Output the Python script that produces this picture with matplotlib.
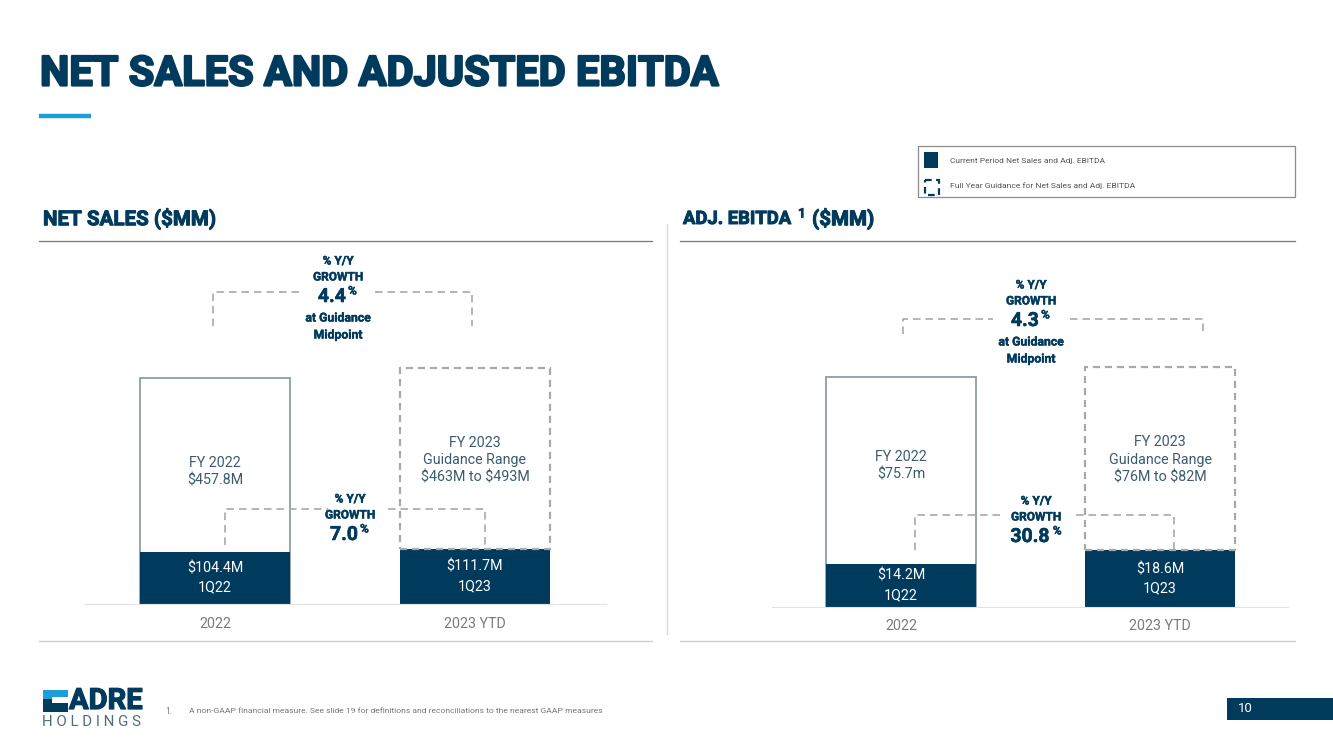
import matplotlib
matplotlib.use('Agg')
import matplotlib.pyplot as plt
import matplotlib.patheffects as pe
from matplotlib.patches import Rectangle

W, H = 1333, 749
NAVY = '#003a5d'
BLUE = '#1c9fd9'
GREY = '#a9a9a9'
TXT = '#3b5a70'

categories = ['2022', '2023 YTD']
sales_period = [104.4, 111.7]
sales_year = [457.8, 478.0]
ebitda_period = [14.2, 18.6]
ebitda_year = [75.7, 79.0]

sales_period_labels = ['\\$104.4M\n1Q22', '\\$111.7M\n1Q23']
sales_year_labels = ['FY 2022\n\\$457.8M', 'FY 2023\nGuidance Range\n\\$463M to \\$493M']
ebitda_period_labels = ['\\$14.2M\n1Q22', '\\$18.6M\n1Q23']
ebitda_year_labels = ['FY 2022\n\\$75.7m', 'FY 2023\nGuidance Range\n\\$76M to \\$82M']

plt.rcParams['font.family'] = ['Roboto', 'DejaVu Sans']

fig = plt.figure(figsize=(W / 100, H / 100), dpi=100)

# overlay in pixel coordinates for slide furniture, sits above the charts
bg = fig.add_axes([0, 0, 1, 1])
bg.set_xlim(0, W)
bg.set_ylim(H, 0)
bg.axis('off')
bg.set_zorder(5)


def heavy(x, y, s, size, w=0.6, **kw):
    t = bg.text(x, y, s, color=NAVY, fontsize=size, fontweight='bold', **kw)
    t.set_path_effects([pe.withStroke(linewidth=w, foreground=NAVY)])
    return t


def chart(left, right, base, top, period, year, period_labels, year_labels, ymax, lims, label_y):
    ax = fig.add_axes([left / W, 1 - base / H, (right - left) / W, (base - top) / H])
    # prior year is a solid outline, guidance year is dashed and starts on top of the 1Q bar
    ax.bar([0], [year[0]], width=0.58, color='white', edgecolor='#8d9ea3', linewidth=1.3, zorder=1)
    ax.bar([1], [year[1] - period[1]], bottom=[period[1]], width=0.58, color='none',
           edgecolor=GREY, linewidth=1.6, linestyle=(0, (3.2, 2.2)), zorder=3)
    ax.bar([0, 1], period, width=0.58, color=NAVY, zorder=2)
    ax.set_xlim(*lims)
    ax.set_ylim(0, ymax)
    ax.patch.set_alpha(0)
    for s in ['top', 'left', 'right']:
        ax.spines[s].set_visible(False)
    ax.spines['bottom'].set_color('#e3e3e3')
    ax.set_yticks([])
    ax.set_xticks([0, 1])
    ax.set_xticklabels(categories, fontsize=10.3, color='#7a7a7a')
    ax.tick_params(axis='x', length=0, pad=9)
    for i in [0, 1]:
        ax.text(i, period[i] / 2, period_labels[i], ha='center', va='center', color='white',
                fontsize=10.3, linespacing=1.45, zorder=5)
        ax.text(i, label_y[i], year_labels[i], ha='center', va='center', color=TXT,
                fontsize=10.3, linespacing=1.32, zorder=5)
    return ax


chart(85, 606, 604, 240, sales_period, sales_year, sales_period_labels, sales_year_labels,
      737.0, (-0.5, 1.504), [267, 291])
chart(772, 1288, 607, 240, ebitda_period, ebitda_year, ebitda_period_labels, ebitda_year_labels,
      120.7, (-0.498, 1.494), [46.3, 48.5])

# title
heavy(40, 74, 'NET SALES AND ADJUSTED EBITDA', 29.9, w=1.6, va='center', ha='left')
bg.plot([39, 91], [115.5, 115.5], color=BLUE, lw=3.2, solid_capstyle='butt')

# legend box
bg.add_patch(Rectangle((918, 146), 377, 51, fc='white', ec='#8c8c8c', lw=0.9))
bg.add_patch(Rectangle((924, 152), 14, 16, fc=NAVY, ec='none'))
bg.add_patch(Rectangle((924.5, 180), 14, 15, fc='none', ec=NAVY, lw=1.6, ls=(0, (3, 2))))
bg.text(950, 161, 'Current Period Net Sales and Adj. EBITDA', fontsize=6.0, color='#555555', va='center')
bg.text(950, 185.5, 'Full Year Guidance for Net Sales and Adj. EBITDA', fontsize=6.1, color='#555555', va='center')

# panel headings
heavy(43, 219, 'NET SALES (\\$MM)', 14.8, w=0.7, va='center')
heavy(683, 219, 'ADJ. EBITDA', 13.3, w=0.7, va='center')
heavy(798, 214, '1', 9.5, w=0.5, va='center')
heavy(812, 219, '(\\$MM)', 14.8, w=0.7, va='center')
bg.plot([39, 652], [240.5, 240.5], color='#777777', lw=0.9)
bg.plot([680, 1295], [240.5, 240.5], color='#777777', lw=0.9)
bg.plot([39, 652], [640.5, 640.5], color='#cfcfcf', lw=1.0)
bg.plot([680, 1295], [640.5, 640.5], color='#cfcfcf', lw=1.0)
bg.plot([666.5, 666.5], [224, 634], color='#d9d9d9', lw=1.0)


def bracket(x0, x1, y, gap0, gap1, y_end):
    dash = (0, (4.5, 3))
    bg.plot([x0, x0, gap0], [y_end, y, y], color=GREY, lw=1.2, ls=dash)
    bg.plot([gap1, x1, x1], [y, y, y_end], color=GREY, lw=1.2, ls=dash)


def growth(cx, y, value, midpoint=False):
    heavy(cx, y, '% Y/Y', 8.6, w=0.3, ha='center', va='center')
    heavy(cx, y + 16, 'GROWTH', 8.6, w=0.3, ha='center', va='center')
    heavy(cx - 6, y + 36, value, 14, w=0.4, ha='center', va='center')
    w_off = 6.8 * len(value) - 7
    heavy(cx + w_off + 1, y + 30, '%', 8.6, w=0.3, ha='center', va='center')
    if midpoint:
        heavy(cx, y + 57, 'at Guidance', 8.8, w=0.3, ha='center', va='center')
        heavy(cx, y + 74, 'Midpoint', 8.8, w=0.3, ha='center', va='center')


bracket(213, 472, 292, 302, 375, 326)
bracket(225, 485, 509, 328, 388, 545)
bracket(903, 1203, 319, 993, 1070, 334)
bracket(915, 1174, 515, 1003, 1076, 550)
growth(338, 261, '4.4', midpoint=True)
growth(350, 499, '7.0')
growth(1031, 285, '4.3', midpoint=True)
growth(1036, 501, '30.8')

# footer, logo is drawn by hand
bg.add_patch(Rectangle((43, 690), 25, 9, fc=BLUE, ec='none'))
bg.add_patch(Rectangle((43, 699), 25, 13, fc=NAVY, ec='none'))
bg.add_patch(Rectangle((52, 697), 16, 6, fc='white', ec='none'))
heavy(69, 701, 'ADRE', 21, w=0.9, ha='left', va='center')
bg.text(42, 722, 'H O L D I N G S', fontsize=10.8, color='#4f6b7d', va='center', ha='left')
bg.text(165, 711, '1.', fontsize=6.2, color='#777777', va='center')
bg.text(189, 711, 'A non-GAAP financial measure. See slide 19 for definitions and reconciliations to the nearest GAAP measures',
        fontsize=6.1, color='#777777', va='center')
bg.add_patch(Rectangle((1227, 698), 106, 22, fc=NAVY, ec='none'))
bg.text(1245, 709, '10', fontsize=9.5, color='white', ha='center', va='center')

fig.savefig('out.png', dpi=100)
